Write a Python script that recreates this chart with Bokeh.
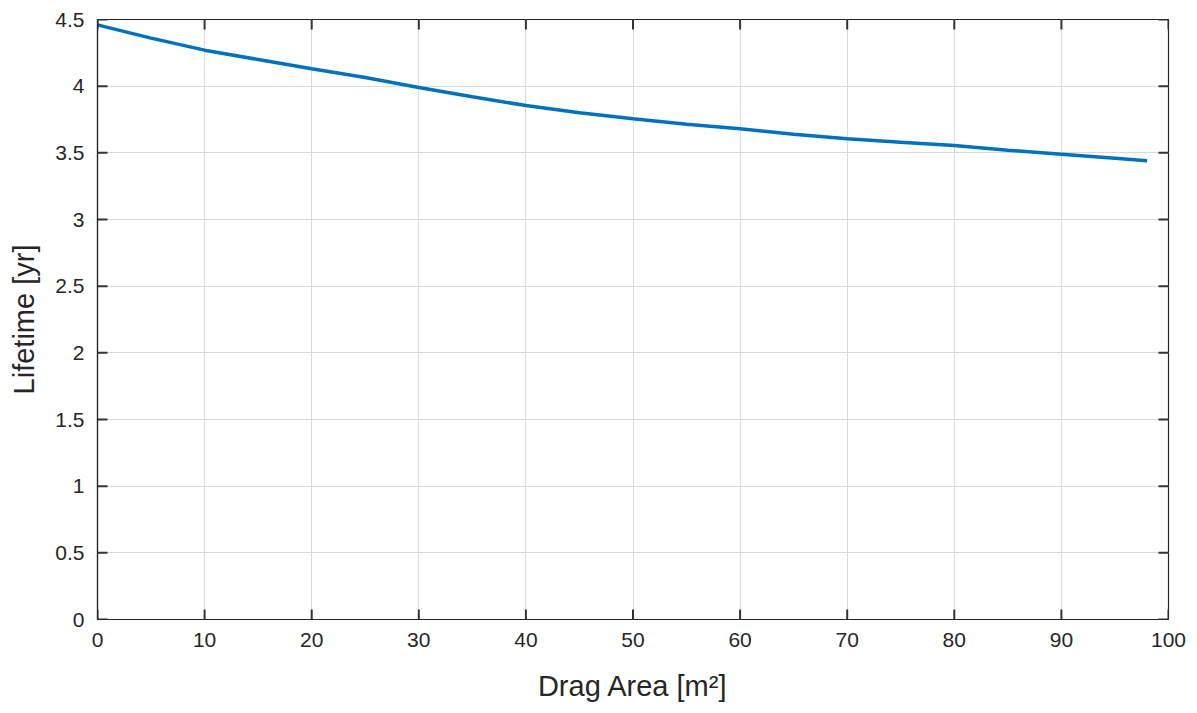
from bokeh.plotting import figure
from bokeh.models import Range1d, FixedTicker
from bokeh.embed import file_html
from bokeh.resources import INLINE

drag_area = [0, 5, 10, 15, 20, 25, 30, 35, 40, 45, 50, 55, 60, 65, 70, 75, 80, 85, 90, 95, 98]
lifetime = [4.46, 4.36, 4.27, 4.20, 4.13, 4.065, 3.99, 3.92, 3.855, 3.80, 3.755, 3.715, 3.68, 3.64,
            3.605, 3.58, 3.555, 3.52, 3.49, 3.46, 3.44]

x_ticks = [0, 10, 20, 30, 40, 50, 60, 70, 80, 90, 100]
y_ticks = [0, 0.5, 1, 1.5, 2, 2.5, 3, 3.5, 4, 4.5]
y_tick_labels = ["0", "0.5", "1", "1.5", "2", "2.5", "3", "3.5", "4", "4.5"]

X_MIN, X_MAX = 0, 100
Y_MIN, Y_MAX = 0, 4.5

FONT = "Liberation Sans"
DARK = "#262626"
TICK_COLOR = "#333333"

W, H = 1197, 713
BL, BR, BT, BB = 97, 29, 19, 94
FRAME_W = W - BL - BR
FRAME_H = H - BT - BB
TICK_PX = 10
tx = TICK_PX * (X_MAX - X_MIN) / FRAME_W
ty = TICK_PX * (Y_MAX - Y_MIN) / FRAME_H

p = figure(width=W, height=H, output_backend="svg", toolbar_location=None,
           x_range=Range1d(X_MIN, X_MAX), y_range=Range1d(Y_MIN, Y_MAX),
           min_border_left=BL, min_border_right=BR, min_border_top=BT, min_border_bottom=BB)

p.grid.grid_line_color = "#dadada"
p.grid.grid_line_width = 1
p.xgrid.ticker = FixedTicker(ticks=x_ticks)
p.ygrid.ticker = FixedTicker(ticks=y_ticks)

p.line(drag_area, lifetime, line_color="#0072BD", line_width=3.5)

# inward tick marks on all four sides (MATLAB box style)
xs = [[t, t] for t in x_ticks] + [[t, t] for t in x_ticks] + \
     [[X_MIN, X_MIN + tx] for _ in y_ticks] + [[X_MAX, X_MAX - tx] for _ in y_ticks]
ys = [[Y_MIN, Y_MIN + ty] for _ in x_ticks] + [[Y_MAX, Y_MAX - ty] for _ in x_ticks] + \
     [[t, t] for t in y_ticks] + [[t, t] for t in y_ticks]
p.multi_line(xs=xs, ys=ys, line_color=TICK_COLOR, line_width=2)

p.outline_line_color = DARK
p.outline_line_width = 1.2
p.background_fill_color = "white"
p.border_fill_color = "white"

p.xaxis.ticker = FixedTicker(ticks=x_ticks)
p.yaxis.ticker = FixedTicker(ticks=y_ticks)
p.yaxis.major_label_overrides = {t: l for t, l in zip(y_ticks, y_tick_labels)}
p.xaxis.major_label_overrides = {t: str(t) for t in x_ticks}

for ax in [p.xaxis[0], p.yaxis[0]]:
    ax.major_tick_in = 0
    ax.major_tick_out = 0
    ax.minor_tick_line_color = None
    ax.axis_line_color = DARK
    ax.axis_line_width = 1.2
    ax.major_label_text_font = FONT
    ax.major_label_text_font_size = "21px"
    ax.major_label_text_color = DARK
    ax.axis_label_text_font = FONT
    ax.axis_label_text_font_size = "29px"
    ax.axis_label_text_font_style = "normal"
    ax.axis_label_text_color = DARK

p.xaxis.axis_label = "Drag Area [m²]"
p.yaxis.axis_label = "Lifetime [yr]"
p.xaxis.major_label_standoff = 13
p.yaxis.major_label_standoff = 13
p.xaxis.axis_label_standoff = 20
p.yaxis.axis_label_standoff = 12

open("out.html", "w").write(file_html(p, INLINE))
